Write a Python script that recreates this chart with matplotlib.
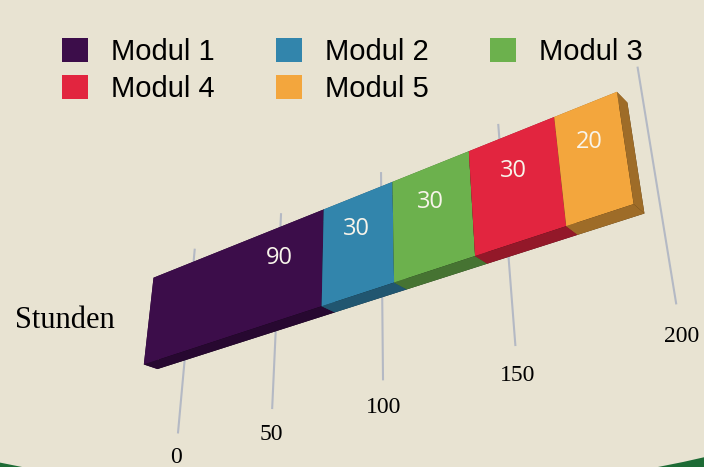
import numpy as np
import matplotlib.pyplot as plt
from matplotlib.patches import Patch, Ellipse
from matplotlib.colors import LightSource

modules = ['Modul 1', 'Modul 2', 'Modul 3', 'Modul 4', 'Modul 5']
hours = [90, 30, 30, 30, 20]
colors = ['#3c0d4a', '#3285ac', '#6cb14d', '#e2253f', '#f3a63d']
ticks = [0, 50, 100, 150, 200]
category = 'Stunden'

bg = '#e8e3d2'
fig = plt.figure(figsize=(7.04, 4.67), dpi=100, facecolor='#1d6b35')
# beige page, the green border only shows in the bottom corners
fig.patches.append(Ellipse((340 / 704, 1619 / 467), 3300 / 704, 3300 / 467,
                           transform=fig.transFigure, facecolor=bg, edgecolor='none', zorder=-1))

# 3d axes, camera below and to the right of the bar (axes square = 889 px)
ax = fig.add_axes([-92.5 / 704, -219.5 / 467, 889 / 704, 889 / 467], projection='3d',
                  computed_zorder=False)
ax.set_facecolor('none')
ax.set_axis_off()
ax.set_xticks([])
ax.set_yticks([])
ax.set_zticks([])
ax.set_proj_type('persp', focal_length=0.2)
ax.view_init(elev=-27.6, azim=-51.1, roll=0)
ax.set_xlim(-15, 225)
ax.set_ylim(-2.81, 3.19)
ax.set_zlim(-3.55, 4.45)
ax.set_box_aspect((240 * 0.0522, 6, 8))

ls = LightSource(azdeg=180, altdeg=0)
left = np.cumsum([0] + hours[:-1])
for i, (l, h, c) in enumerate(zip(left, hours, colors)):
    ax.bar3d(l, 0, -0.85, h, 0.35, 1.9, color=c, shade=True, lightsource=ls, zorder=3 + i)
    # label in the middle, but not further than 20 h from the segment end
    xl = max(l + h / 2, l + h - 20)
    ax.text(xl, -0.01, 0.38, str(h), color='#f8f4ea', fontsize=17,
            family='Open Sans', ha='center', va='center', zorder=20)

for t in ticks:
    ax.plot([t, t], [1.03, 1.03], [-2.0, 2.1], color='#b4b9c4', lw=1.5, zorder=1)
    ax.text(t, 1.03, -2.5, str(t), fontsize=17, family='Liberation Serif',
            ha='center', va='center', zorder=2)

fig.text(15 / 704, 0.313, category, fontsize=22, family='Liberation Serif', va='center')

handles = [Patch(facecolor=c) for c in colors]
order = [0, 3, 1, 4, 2]
fig.legend([handles[i] for i in order], [modules[i] for i in order], ncol=3,
           loc='upper left', bbox_to_anchor=(62 / 704, 0.918), frameon=False,
           borderpad=0, borderaxespad=0,
           prop={'family': 'Liberation Sans', 'size': 21}, handlelength=0.89,
           handleheight=0.89, handletextpad=0.79, columnspacing=2.1, labelspacing=0.3)

fig.savefig('out.png', dpi=100, facecolor=fig.get_facecolor())
